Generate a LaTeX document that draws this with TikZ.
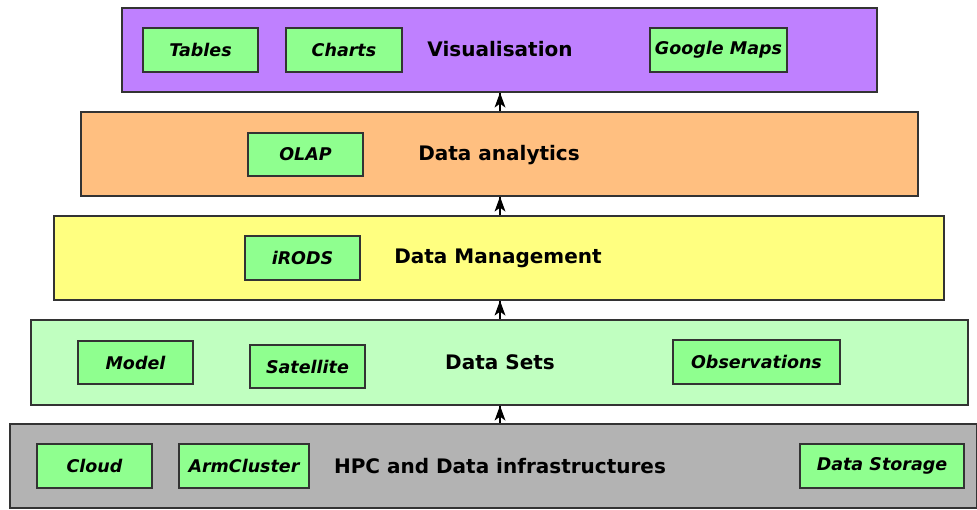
\documentclass[tikz,border=0pt]{standalone}
\usepackage{fontspec}
\setmainfont{DejaVu Sans}
\usetikzlibrary{arrows.meta}
\definecolor{cviz}{HTML}{BF80FF}
\definecolor{cana}{HTML}{FFBF80}
\definecolor{cman}{HTML}{FFFF80}
\definecolor{cset}{HTML}{C0FFC0}
\definecolor{chpc}{HTML}{B3B3B3}
\definecolor{cinner}{HTML}{8FFF8F}
\definecolor{cline}{HTML}{333333}
\begin{document}
\begin{tikzpicture}[x=1pt,y=1pt,
  layer/.style={draw=cline,line width=1.3pt,inner sep=0pt},
  inner/.style={draw=cline,line width=1.3pt,fill=cinner,inner sep=0pt,font=\fontsize{17.5}{20}\selectfont\bfseries\itshape},
  title/.style={font=\fontsize{20}{24}\selectfont\bfseries,inner sep=0pt},
  uparrow/.style={line width=1.3pt,black},
  uphead/.style={fill=black}]
\useasboundingbox (0,0) rectangle (977,-509);
% layers
\node[layer,fill=cviz,minimum width=755pt,minimum height=84pt] (viz) at (499.5,-50) {};
\node[layer,fill=cana,minimum width=837pt,minimum height=84pt] (ana) at (499.5,-154) {};
\node[layer,fill=cman,minimum width=890pt,minimum height=84pt] (man) at (499,-258) {};
\node[layer,fill=cset,minimum width=937pt,minimum height=85pt] (set) at (499.5,-362.5) {};
\node[layer,fill=chpc,minimum width=967pt,minimum height=84pt] (hpc) at (493.5,-466) {};
% titles
\node[title] (tviz) at (500,-49) {Visualisation};
\node[title] (tana) at (499,-155) {Data analytics};
\node[title] (tman) at (498,-258) {Data Management};
\node[title] (tset) at (500,-362) {Data Sets};
\node[title] (thpc) at (500,-466) {HPC and Data infrastructures};
% inner boxes
\node[inner,minimum width=115pt,minimum height=44pt] (tables) at (200.5,-50) {Tables};
\node[inner,minimum width=116pt,minimum height=44pt] (charts) at (344,-50) {Charts};
\node[inner,minimum width=137pt,minimum height=44pt] (gmaps) at (718.5,-50) {Google Maps};
\node[inner,minimum width=115pt,minimum height=43pt] (olap) at (305.5,-154.5) {OLAP};
\node[inner,minimum width=115pt,minimum height=44pt] (irods) at (302.5,-258) {iRODS};
\node[inner,minimum width=115pt,minimum height=43pt] (model) at (135.5,-362.5) {Model};
\node[inner,minimum width=115pt,minimum height=43pt] (sat) at (307.5,-366.5) {Satellite};
\node[inner,minimum width=167pt,minimum height=44pt] (obs) at (756.5,-362) {Observations};
\node[inner,minimum width=115pt,minimum height=44pt] (cloud) at (94.5,-466) {Cloud};
\node[inner,minimum width=130pt,minimum height=44pt] (arm) at (244,-466) {ArmCluster};
\node[inner,minimum width=164pt,minimum height=44pt] (store) at (882,-466) {Data Storage};
% arrows
\coordinate (a1) at (500,-424);
\draw[uparrow] (hpc.north -| a1) -- (set.south -| a1);
\draw[uparrow] (set.north -| a1) -- (man.south -| a1);
\draw[uparrow] (man.north -| a1) -- (ana.south -| a1);
\draw[uparrow] (ana.north -| a1) -- (viz.south -| a1);
\foreach \n in {set,man,ana,viz}{
  \fill[uphead] (\n.south -| a1) -- ++(-5.5,-15) -- ++(5.5,4) -- ++(5.5,-4) -- cycle;
}
\end{tikzpicture}
\end{document}
